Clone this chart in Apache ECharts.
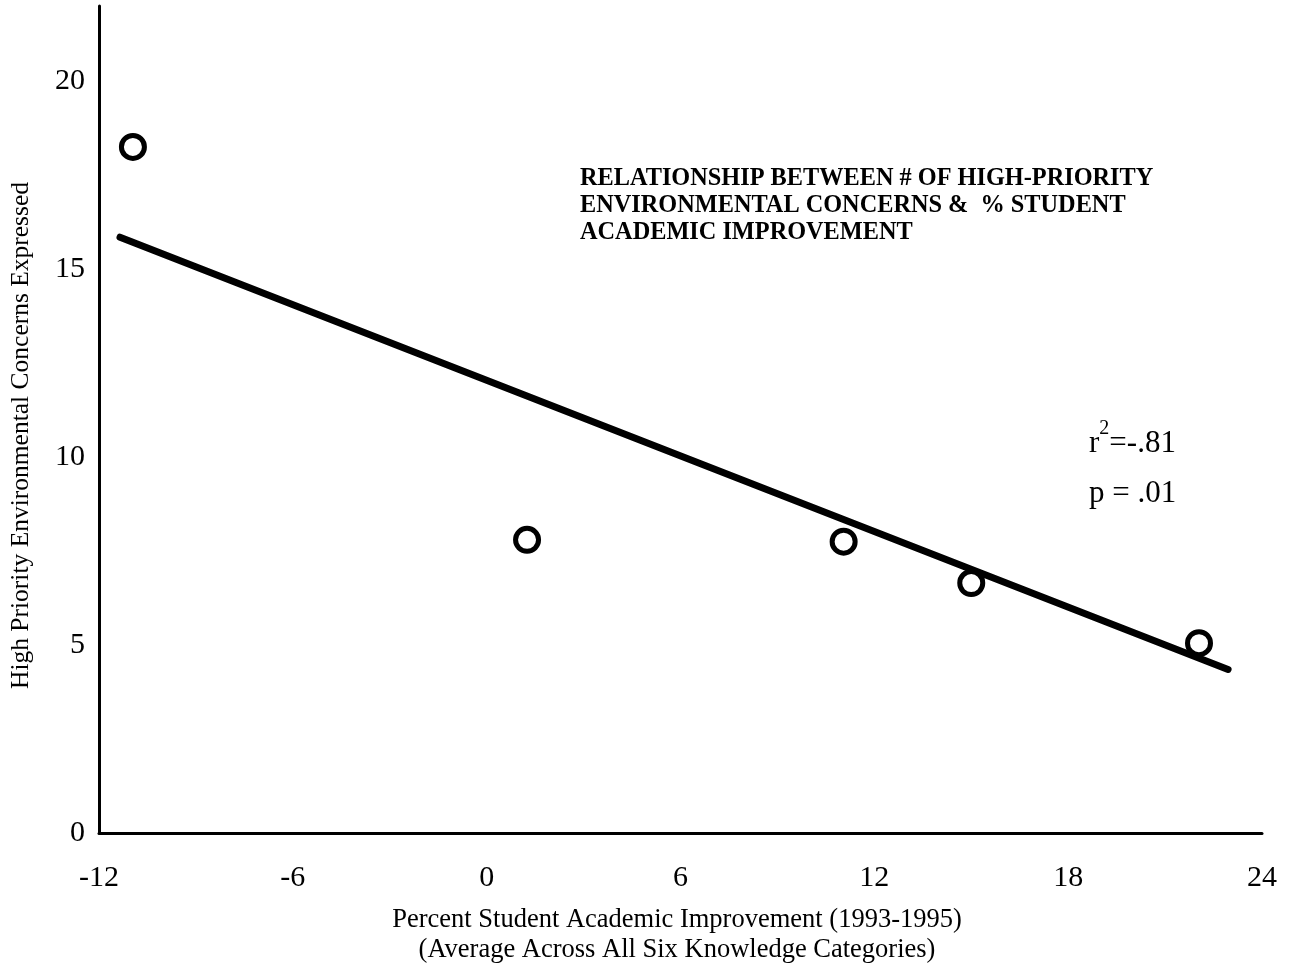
<!DOCTYPE html>
<html>
<head>
<meta charset="utf-8">
<script src="https://cdn.jsdelivr.net/npm/echarts@6/dist/echarts.min.js"></script>
<style>
  html, body { margin: 0; padding: 0; background: #fff; }
  #chart { width: 1291px; height: 963px; }
</style>
</head>
<body>
<div id="chart"></div>
<script>
// points: % improvement vs number of concerns
const improvement = [-10.95, 1.25, 11.05, 15.0, 22.05];
const concerns = [18.25, 7.8, 7.75, 6.65, 5.05];
// fitted line, its two ends
const fitX = [-11.35, 22.95];
const fitY = [15.85, 4.35];

const xTicks = [-12, -6, 0, 6, 12, 18, 24];
const yTicks = [0, 5, 10, 15, 20];

const serif = '"Liberation Serif", "Times New Roman", serif';

const chart = echarts.init(document.getElementById('chart'));

chart.setOption({
  backgroundColor: '#fff',
  animation: false,
  title: [
    {
      text: 'RELATIONSHIP BETWEEN # OF HIGH-PRIORITY\nENVIRONMENTAL CONCERNS &  % STUDENT\nACADEMIC IMPROVEMENT',
      left: 575,
      top: 160,
      textStyle: {
        fontFamily: serif,
        fontSize: 24.3,
        fontWeight: 'bold',
        color: '#000',
        lineHeight: 27
      }
    },
    {
      text: '{a|r}{s|2}{a|=-.81}\n{a|p = .01}',
      left: 1084,
      top: 414,
      textStyle: {
        rich: {
          a: { fontFamily: serif, fontSize: 31, fontWeight: 'normal', color: '#000', lineHeight: 50 },
          s: { fontFamily: serif, fontSize: 20, fontWeight: 'normal', color: '#000', verticalAlign: 'top', padding: [0, 0, 18, 0] }
        }
      }
    },
    {
      text: 'Percent Student Academic Improvement (1993-1995)\n(Average Across All Six Knowledge Categories)',
      left: 672,
      top: 900,
      textAlign: 'center',
      textStyle: {
        fontFamily: serif,
        fontSize: 26.5,
        fontWeight: 'normal',
        color: '#000',
        lineHeight: 30,
        align: 'center'
      }
    }
  ],
  grid: {
    left: 95,
    right: 29,
    top: 6,
    bottom: 130,
    containLabel: false
  },
  xAxis: {
    type: 'value',
    min: xTicks[0],
    max: xTicks[xTicks.length - 1],
    interval: 6,
    splitLine: { show: false },
    axisTick: { show: false },
    axisLine: { show: true, onZero: false, lineStyle: { color: '#000', width: 3 } },
    axisLabel: {
      margin: 30,
      fontFamily: serif,
      fontSize: 30,
      color: '#000',
      showMinLabel: true,
      showMaxLabel: true
    }
  },
  yAxis: {
    type: 'value',
    min: 0,
    max: 22,
    interval: 5,
    name: 'High Priority Environmental Concerns Expressed',
    nameLocation: 'middle',
    nameRotate: 90,
    nameGap: 65,
    nameTextStyle: { fontFamily: serif, fontSize: 25.5, color: '#000', padding: [0, 32, 0, 0] },
    splitLine: { show: false },
    axisTick: { show: false },
    axisLine: { show: true, onZero: false, lineStyle: { color: '#000', width: 3 } },
    axisLabel: {
      margin: 14,
      fontFamily: serif,
      fontSize: 30,
      color: '#000',
      showMaxLabel: false,
      formatter: (v) => (yTicks.includes(v) ? String(v) : '')
    }
  },
  series: [
    {
      type: 'line',
      data: fitX.map((x, i) => [x, fitY[i]]),
      symbol: 'none',
      lineStyle: { color: '#000', width: 7, cap: 'round' },
      z: 2
    },
    {
      type: 'scatter',
      data: improvement.map((x, i) => [x, concerns[i]]),
      symbol: 'circle',
      symbolSize: 23,
      itemStyle: { color: '#fff', borderColor: '#000', borderWidth: 5, opacity: 1 },
      z: 3
    }
  ]
});
</script>
</body>
</html>
